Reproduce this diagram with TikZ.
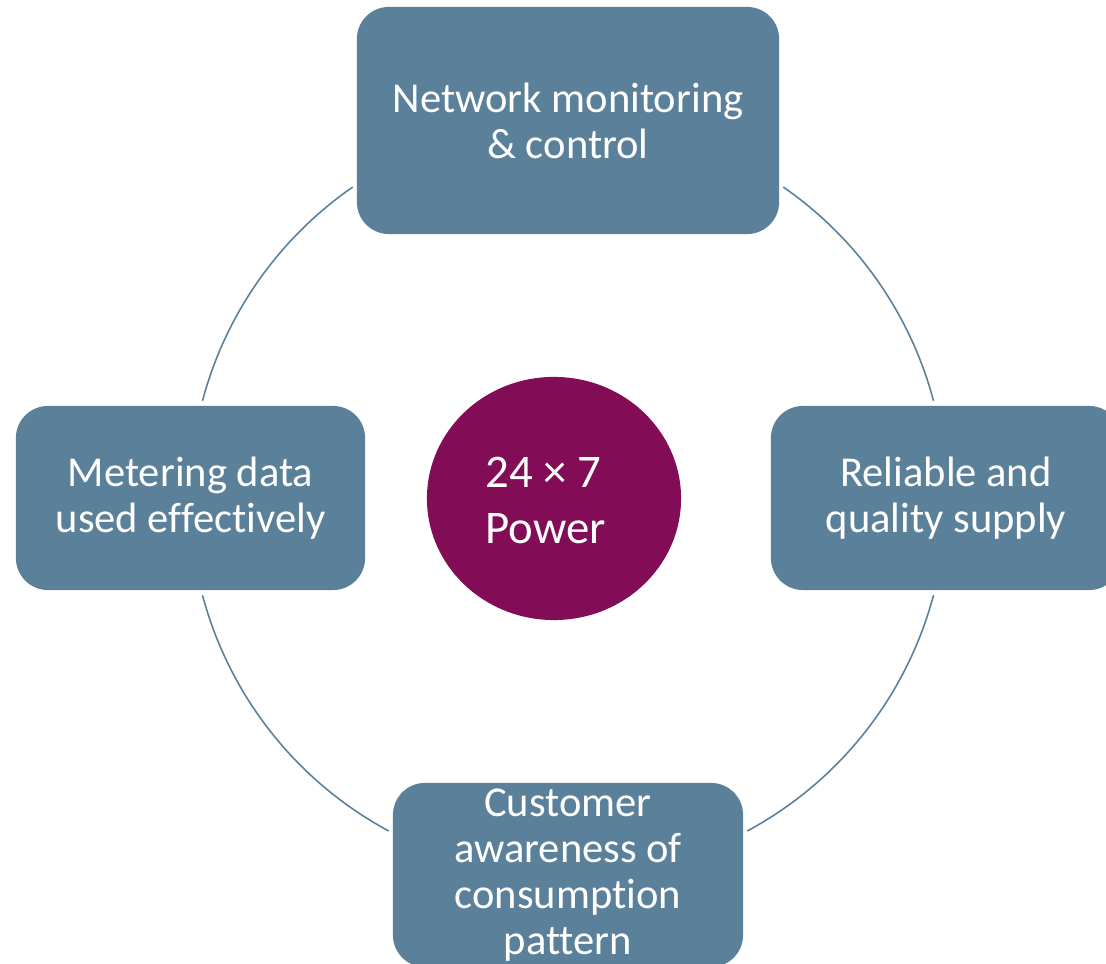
\documentclass[tikz,border=0pt]{standalone}
\usepackage{fontspec}
\setmainfont{Carlito}[Ligatures={NoCommon,NoContextual,NoRequired}, RawFeature=-calt]
\usetikzlibrary{shapes.geometric}
\definecolor{boxblue}{RGB}{91,128,154}
\definecolor{hubpurple}{RGB}{130,12,86}
\begin{document}
\begin{tikzpicture}[x=0.01cm,y=0.01cm,
  item/.style={rectangle, rounded corners=0.32cm, fill=boxblue, text=white, align=center, inner sep=0pt, font=\fontsize{12.1}{13.1}\selectfont},
  hub/.style={ellipse, fill=hubpurple, inner sep=0pt, minimum width=2.54cm, minimum height=2.43cm},
  hubtext/.style={anchor=west, align=left, text=white, inner sep=0pt, font=\fontsize{13.3}{15.9}\selectfont},
  ring/.style={draw=boxblue, line width=0.45pt}]
\useasboundingbox (0,0) rectangle (1106,964);
\clip (0,0) rectangle (1106,964);
\coordinate (c) at (568,466);
% ring segments
\draw[ring] (c) ++(165.1:3.78cm) arc[start angle=165.1, end angle=124.7, radius=3.78cm];
\draw[ring] (c) ++(55.3:3.78cm) arc[start angle=55.3, end angle=14.9, radius=3.78cm];
\draw[ring] (c) ++(-14.9:3.78cm) arc[start angle=-14.9, end angle=-61.7, radius=3.78cm];
\draw[ring] (c) ++(-118.3:3.78cm) arc[start angle=-118.3, end angle=-165.1, radius=3.78cm];
% boxes
\node[item, minimum width=4.22cm, minimum height=2.27cm] (top) at (568,843.5) {Network monitoring\\\& control};
\node[item, minimum width=3.49cm, minimum height=1.84cm] (left) at (190.5,466) {Metering data\\used effec\kern0pt tively};
\node[item, minimum width=3.50cm, minimum height=1.84cm] (right) at (946,466) {Reliable and\\quality supply};
\node[item, minimum width=3.50cm, minimum height=1.84cm] (bottom) at (568,89) {Customer\\awareness of\\consump\kern0pt tion\\pattern};
% hub
\node[hub] (hub) at (554,465.5) {};
\node[hubtext] (hublabel) at (485,463.5) {24 × 7\\Power};
\end{tikzpicture}
\end{document}
